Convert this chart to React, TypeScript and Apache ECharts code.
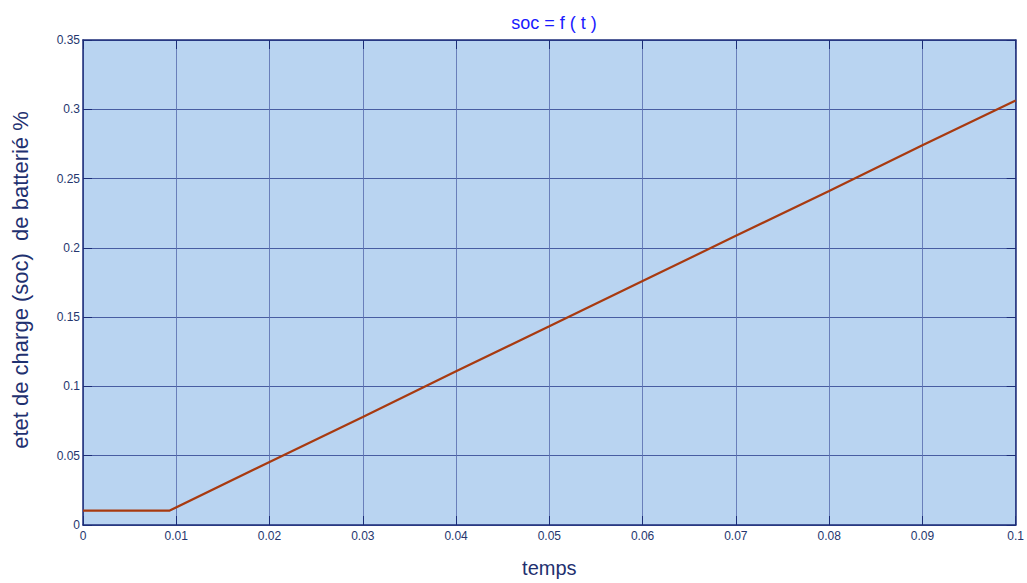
import React, { useEffect, useRef } from "react";
import * as echarts from "echarts";

const timeValues = [0, 0.0093, 0.02, 0.03, 0.04, 0.05, 0.06, 0.07, 0.08, 0.09, 0.1];
const socValues = [0.0104, 0.0104, 0.0455, 0.078, 0.111, 0.1434, 0.176, 0.2087, 0.241, 0.274, 0.3064];
const titleText = "soc = f ( t )";
const xName = "temps";
const yName = "etet de charge (soc)  de batterié %";

export default function App() {
  const ref = useRef<HTMLDivElement>(null);
  useEffect(() => {
    document.body.style.margin = "0";
    const chart = echarts.init(ref.current!, null, { renderer: "svg" });
    const axisColor = "#1c2d78";
    const labelColor = "#25366e";
    const font = "Liberation Sans, Arial, sans-serif";
    const data = timeValues.map((t, i) => [t, socValues[i]]);
    const fmt = (v: number) => String(+v.toFixed(2));
    chart.setOption({
      animation: false,
      backgroundColor: "#ffffff",
      title: {
        text: titleText,
        left: 549,
        top: 9,
        textAlign: "center",
        textStyle: { color: "#1a1aff", fontSize: 18, fontWeight: "normal", fontFamily: font },
      },
      graphic: [
        {
          type: "text",
          x: 20,
          y: 280,
          rotation: Math.PI / 2,
          style: {
            text: yName,
            fill: "#1f3170",
            font: "22px Liberation Sans, Arial, sans-serif",
            align: "center",
            verticalAlign: "middle",
          },
        },
      ],
      grid: { left: 83, right: 9, top: 40, bottom: 45, show: true, backgroundColor: "#b9d4f1", borderWidth: 0 },
      xAxis: [
        {
          type: "value",
          min: 0,
          max: 0.1,
          interval: 0.01,
          name: xName,
          nameLocation: "middle",
          nameGap: 33,
          nameTextStyle: { color: "#1f3170", fontSize: 20, fontFamily: font },
          axisLine: { show: true, onZero: false, lineStyle: { color: axisColor, width: 1.5 } },
          axisTick: { show: true, inside: true, length: 9, lineStyle: { color: axisColor } },
          axisLabel: { color: labelColor, fontSize: 12, fontFamily: font, margin: 5, formatter: fmt },
          splitLine: { show: true, lineStyle: { color: "#5a70b0", width: 1, opacity: 0.85 } },
        },
        {
          type: "value",
          position: "top",
          min: 0,
          max: 0.1,
          interval: 0.01,
          axisLine: { show: true, onZero: false, lineStyle: { color: axisColor, width: 1.5 } },
          axisTick: { show: true, inside: true, length: 9, lineStyle: { color: axisColor } },
          axisLabel: { show: false },
          splitLine: { show: false },
        },
      ],
      yAxis: [
        {
          type: "value",
          min: 0,
          max: 0.35,
          interval: 0.05,
          axisLine: { show: true, onZero: false, lineStyle: { color: axisColor, width: 1.5 } },
          axisTick: { show: true, inside: true, length: 9, lineStyle: { color: axisColor } },
          axisLabel: { color: labelColor, fontSize: 12, fontFamily: font, margin: 3, formatter: fmt },
          splitLine: { show: true, lineStyle: { color: "#3c5099", width: 1, opacity: 0.9 } },
        },
        {
          type: "value",
          position: "right",
          min: 0,
          max: 0.35,
          interval: 0.05,
          axisLine: { show: true, onZero: false, lineStyle: { color: axisColor, width: 1.5 } },
          axisTick: { show: true, inside: true, length: 9, lineStyle: { color: axisColor } },
          axisLabel: { show: false },
          splitLine: { show: false },
        },
      ],
      series: [
        {
          type: "line",
          data,
          showSymbol: false,
          symbol: "none",
          lineStyle: { color: "#a83a10", width: 2.2 },
        },
      ],
    });
    return () => chart.dispose();
  }, []);
  return <div ref={ref} style={{ width: 1027, height: 583 }} />;
}
